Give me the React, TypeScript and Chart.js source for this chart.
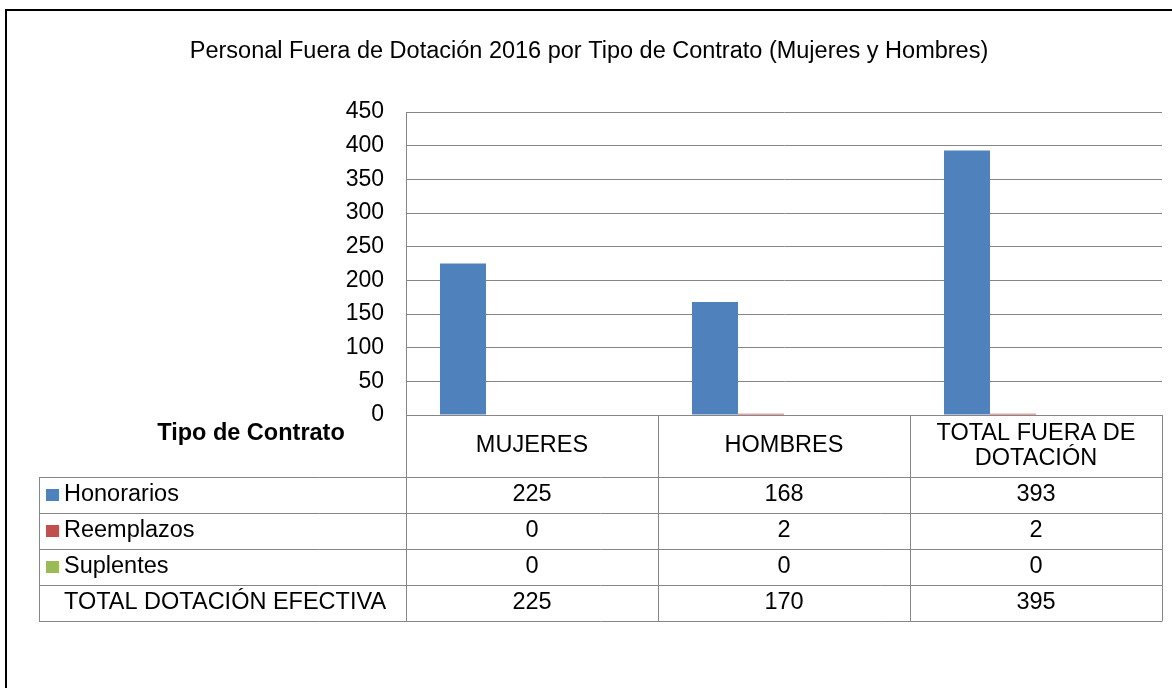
import React, { useEffect, useRef } from "react";
import { Chart, registerables } from "chart.js";

Chart.register(...registerables);

const chartTitle = "Personal Fuera de Dotación 2016 por Tipo de Contrato (Mujeres y Hombres)";
const tableHeader = "Tipo de Contrato";
const categories: (string | string[])[] = ["MUJERES", "HOMBRES", ["TOTAL FUERA DE", "DOTACIÓN"]];
const seriesNames = ["Honorarios", "Reemplazos", "Suplentes", "TOTAL DOTACIÓN EFECTIVA"];
const honorarios = [225, 168, 393];
const reemplazos = [0, 2, 2];
const suplentes = [0, 0, 0];
const totalDotacion = [225, 170, 395];
const yTickValues = [0, 50, 100, 150, 200, 250, 300, 350, 400, 450];
const seriesColors = ["#4F81BD", "#C0504D", "#9BBB59", "rgba(0,0,0,0)"];
const showMarker = [true, true, true, false];

const FONT = "'Liberation Sans', Arial, Helvetica, sans-serif";
const FS = 23.5;
const GRID = "#868686";
const HEADER_H = 62;
const ROW_H = 36;
const TABLE_LEFT = 39;

const seriesValues = [honorarios, reemplazos, suplentes, totalDotacion];

const align = (p: number) => Math.round(p - 0.5) + 0.5;

const tablePlugin = {
  id: "dataTableAndFrame",
  afterDraw(chart: any) {
    const { ctx, chartArea } = chart;
    const xScale = chart.scales.x;
    const n = categories.length;
    const colW = (chartArea.right - chartArea.left) / n;
    const top = chartArea.bottom;
    const hdrBottom = top + HEADER_H;
    const tableBottom = hdrBottom + ROW_H * seriesNames.length;

    ctx.save();
    // outer frame
    ctx.strokeStyle = "#000";
    ctx.lineWidth = 2;
    ctx.beginPath();
    ctx.moveTo(6, chart.height);
    ctx.lineTo(6, 10);
    ctx.lineTo(chart.width, 10);
    ctx.stroke();

    // title
    ctx.fillStyle = "#000";
    ctx.font = `${FS}px ${FONT}`;
    ctx.textAlign = "center";
    ctx.textBaseline = "middle";
    ctx.fillText(chartTitle, 589, 52);

    // table lines
    ctx.strokeStyle = GRID;
    ctx.lineWidth = 1;
    ctx.beginPath();
    for (let r = 0; r <= seriesNames.length; r++) {
      const y = align(hdrBottom + r * ROW_H);
      ctx.moveTo(TABLE_LEFT, y);
      ctx.lineTo(chartArea.right, y);
    }
    const lx = align(TABLE_LEFT);
    ctx.moveTo(lx, align(hdrBottom));
    ctx.lineTo(lx, align(tableBottom));
    for (let c = 0; c <= n; c++) {
      const x = align(chartArea.left + c * colW);
      ctx.moveTo(x, align(top));
      ctx.lineTo(x, align(tableBottom));
    }
    ctx.stroke();

    // header
    ctx.fillStyle = "#000";
    ctx.font = `bold ${FS}px ${FONT}`;
    ctx.textAlign = "center";
    ctx.fillText(tableHeader, 251, 434);

    ctx.font = `${FS}px ${FONT}`;
    const hMid = top + HEADER_H / 2;
    categories.forEach((cat, i) => {
      const cx = xScale.getPixelForValue(i);
      const lines = Array.isArray(cat) ? cat : [cat];
      const lh = 25;
      lines.forEach((t, k) => {
        ctx.fillText(t, cx, hMid + (k - (lines.length - 1) / 2) * lh);
      });
    });

    // rows
    seriesNames.forEach((name, r) => {
      const cy = hdrBottom + r * ROW_H + ROW_H / 2;
      if (showMarker[r]) {
        ctx.fillStyle = seriesColors[r];
        ctx.fillRect(46, cy - 6, 13, 12);
      }
      ctx.fillStyle = "#000";
      ctx.textAlign = "left";
      ctx.fillText(name, 64, cy);
      ctx.textAlign = "center";
      seriesValues[r].forEach((v, i) => {
        ctx.fillText(String(v), xScale.getPixelForValue(i), cy);
      });
    });
    ctx.restore();
  },
};

export default function App() {
  const ref = useRef<HTMLCanvasElement | null>(null);
  useEffect(() => {
    document.body.style.margin = "0";
    document.body.style.overflow = "hidden";
    if (!ref.current) return;
    const chart = new Chart(ref.current, {
      type: "bar",
      data: {
        labels: categories.map((c) => (Array.isArray(c) ? c.join(" ") : c)),
        datasets: seriesNames.map((name, i) => ({
          label: name,
          data: seriesValues[i],
          backgroundColor: seriesColors[i],
          borderWidth: 0,
          categoryPercentage: 0.7302,
          barPercentage: 1.0,
        })),
      },
      options: {
        animation: false,
        responsive: true,
        maintainAspectRatio: false,
        layout: { padding: { left: 0, right: 10, top: 112, bottom: 273 } },
        plugins: {
          legend: { display: false },
          title: { display: false },
          tooltip: { enabled: false },
        },
        scales: {
          x: {
            grid: { display: false, drawTicks: false },
            border: { display: true, color: GRID, width: 1 },
            ticks: { display: false },
            afterFit: (s: any) => {
              s.height = 0;
            },
          },
          y: {
            min: 0,
            max: 450,
            afterBuildTicks: (s: any) => {
              s.ticks = yTickValues.map((v) => ({ value: v }));
            },
            grid: { color: GRID, lineWidth: 1, drawTicks: false },
            border: { display: true, color: GRID, width: 1 },
            ticks: {
              padding: 22,
              color: "#000",
              font: { family: FONT, size: 23 },
            },
            afterFit: (s: any) => {
              s.width = 406;
            },
          },
        },
      },
      plugins: [tablePlugin],
    });
    return () => chart.destroy();
  }, []);
  return (
    <div style={{ width: 1172, height: 688, position: "relative" }}>
      <canvas ref={ref} />
    </div>
  );
}
